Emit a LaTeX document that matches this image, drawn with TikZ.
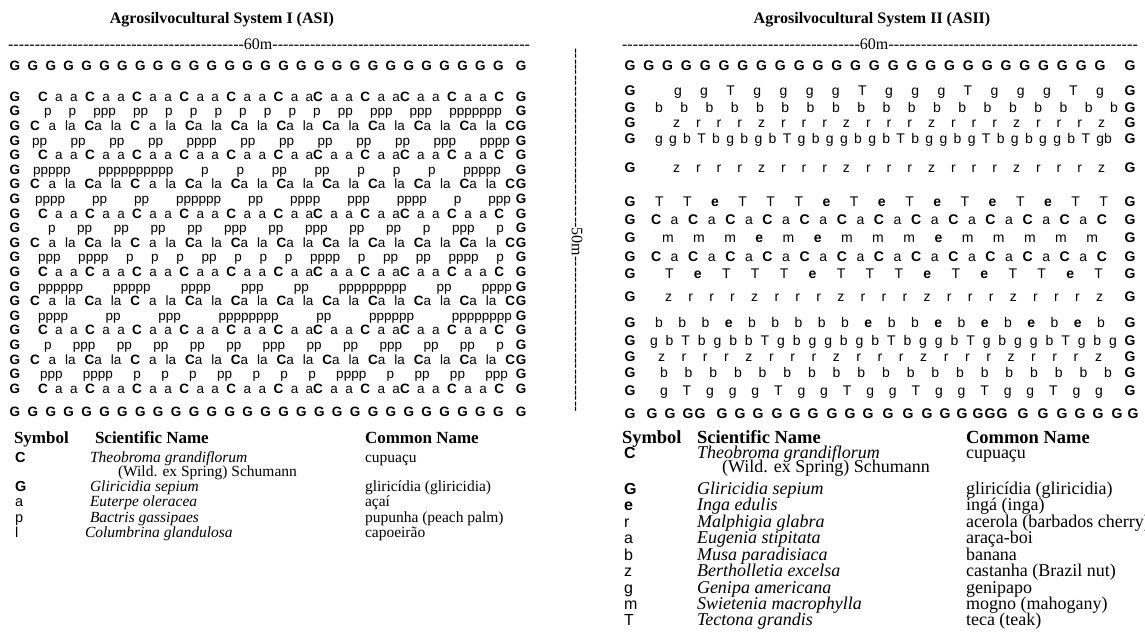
\documentclass[tikz,border=0pt]{standalone}
\usepackage{fontspec}
\setmainfont{Liberation Serif}
\newfontfamily\sansf{Liberation Sans}
\newcommand{\Cb}{\textbf{C}}
\newcommand{\Gb}{\textbf{G}}
\newcommand{\eb}{\textbf{e}}
\newcommand{\dashfill}{\xleaders\hbox{-}\hfill}
\newcommand{\rowCaa}{\Cb{} a a \Cb{} a a \Cb{} a a \Cb{} a a \Cb{} a a \Cb{} a a\Cb{} a a \Cb{} a a\Cb{} a a \Cb{} a a \Cb{}}
\newcommand{\rowCala}{\Cb{} a la \Cb{}a la \Cb{} a la \Cb{}a la \Cb{}a la \Cb{}a la \Cb{}a la \Cb{}a la \Cb{}a la \Cb{}a la \Cb{}}
\newcommand{\rowZ}{z r r r z r r r z r r r z r r r z r r r z}
\newcommand{\rowCaCa}{\Cb{} a \Cb{} a \Cb{} a \Cb{} a \Cb{} a \Cb{} a \Cb{} a \Cb{} a \Cb{} a \Cb{} a \Cb{} a \Cb{} a \Cb{}}
\newcommand{\Grow}[5]{%
  \node[\cellst,anchor=base] (#1l) at (\GL,#2) {\Gb};
  \node[\cellst,anchor=base west] (#1c) at (#3,#2) {\makebox[#4pt][s]{#5}};
  \node[\cellst,anchor=base] (#1r) at (\GR,#2) {\Gb};
}
\begin{document}
\begin{tikzpicture}[x=1pt,y=-1pt,
  every node/.style={inner sep=0pt,outer sep=0pt},
  cellL/.style={font=\sansf\fontsize{13.5}{14}\selectfont},
  cellR/.style={font=\sansf\fontsize{14}{15}\selectfont},
  ttl/.style={font=\bfseries\fontsize{16}{18}\selectfont,anchor=base},
  hdrL/.style={font=\bfseries\fontsize{17}{19}\selectfont,anchor=base west},
  symL/.style={font=\sansf\fontsize{14.5}{16}\selectfont,anchor=base west},
  legL/.style={font=\fontsize{15.5}{17}\selectfont,anchor=base west},
  sciL/.style={font=\itshape\fontsize{15.5}{17}\selectfont,anchor=base west},
  hdrR/.style={font=\bfseries\fontsize{18.5}{20}\selectfont,anchor=base west},
  symR/.style={font=\sansf\fontsize{16}{18}\selectfont,anchor=base west},
  legR/.style={font=\fontsize{18}{20}\selectfont,anchor=base west},
  sciR/.style={font=\itshape\fontsize{18}{20}\selectfont,anchor=base west},
  dim/.style={font=\fontsize{16}{18}\selectfont}]
\useasboundingbox[fill=white] (0,0) rectangle (1145,634);

% titles
\node[ttl] (t1) at (222,24) {Agrosilvocultural System I (ASI)};
\node[ttl] (t2) at (872,24) {Agrosilvocultural System II (ASII)};

% dimension lines
\node[dim,anchor=base west] (d1) at (8,50) {\hbox to 522pt{\hbox to 236pt{\dashfill}60m\dashfill}};
\node[dim,anchor=base west] (d2) at (622,50) {\hbox to 516pt{\hbox to 238pt{\dashfill}60m\dashfill}};
\node[dim,rotate=-90] (d3) at (577,230) {\hbox to 364pt{\hbox to 180pt{\dashfill}50m\dashfill}};

% ---------- left grid ----------
\def\cellst{cellL}
\foreach \k in {0,...,27}{\node[cellL,anchor=base] (LT\k) at ({15+17.9*\k},70.6) {\Gb};}
\node[cellL,anchor=base] (LTe) at (521,70.6) {\Gb};
\def\GL{15}\def\GR{521}
\Grow{L1}{101.3}{38}{466}{\rowCaa}
\Grow{L2}{115.9}{44}{458}{p p ppp pp p p p p p p p pp ppp ppp ppppppp}
\Grow{L3}{130.5}{30}{485}{\rowCala}
\Grow{L4}{145.1}{32}{478}{pp pp pp pp pppp pp pp pp pp pp ppp pppp}
\Grow{L5}{159.7}{38}{466}{\rowCaa}
\Grow{L6}{174.3}{33}{468}{ppppp pppppppppp p p pp pp p p p ppppp}
\Grow{L7}{188.9}{30}{485}{\rowCala}
\Grow{L8}{203.5}{35}{476}{pppp pp pp pppppp pp pppp ppp pppp p ppp}
\Grow{L9}{218.1}{38}{466}{\rowCaa}
\Grow{L10}{232.7}{48}{456}{p pp pp pp pp ppp pp ppp pp pp p ppp p}
\Grow{L11}{247.3}{30}{485}{\rowCala}
\Grow{L12}{261.9}{38}{466}{ppp pppp p p p pp p p p pppp p pp pp pppp p}
\Grow{L13}{276.5}{38}{466}{\rowCaa}
\Grow{L14}{291.1}{38}{474}{pppppp ppppp pppp ppp pp ppppppppp pp pppp}
\Grow{L15}{305.7}{30}{485}{\rowCala}
\Grow{L16}{320.3}{38}{474}{pppp pp ppp pppppppp pp pppppp pppppppp}
\Grow{L17}{334.9}{38}{466}{\rowCaa}
\Grow{L18}{349.5}{44}{460}{p ppp pp pp pp pp ppp pp pp ppp pp pp p}
\Grow{L19}{364.1}{30}{485}{\rowCala}
\Grow{L20}{378.7}{40}{468}{ppp pppp p p p pp p p p pppp p pp pp ppp}
\Grow{L21}{393.3}{38}{466}{\rowCaa}
\foreach \k in {0,...,27}{\node[cellL,anchor=base] (LB\k) at ({15+17.9*\k},416.6) {\Gb};}
\node[cellL,anchor=base] (LBe) at (521,416.6) {\Gb};

% ---------- right grid ----------
\def\cellst{cellR}
\foreach \k in {0,...,25}{\node[cellR,anchor=base] (RT\k) at ({630+18.8*\k},70.6) {\Gb};}
\node[cellR,anchor=base] (RTe) at (1130,70.6) {\Gb};
\def\GL{630}\def\GR{1130}
\Grow{R1}{95.2}{674}{430}{g g T g g g g T g g g T g g g T g}
\Grow{R2}{112.2}{655}{463}{b b b b b b b b b b b b b b b b b b b}
\Grow{R3}{127.8}{673}{432}{\rowZ}
\Grow{R4}{143.5}{655}{457}{g g b T b g b g b T g b g g b g b T b g g b g T b g b g g b T gb}
\Grow{R5}{172.5}{673}{432}{\rowZ}
\Grow{R6}{206}{655}{453}{T T \eb{} T T T \eb{} T \eb{} T \eb{} T \eb{} T \eb{} T T}
\Grow{R7}{224.5}{651}{456}{\rowCaCa}
\Grow{R8}{242.5}{662}{436}{m m m \eb{} m \eb{} m m m \eb{} m m m m m}
\Grow{R9}{261.2}{651}{456}{\rowCaCa}
\Grow{R10}{278.9}{665}{438}{T \eb{} T T T \eb{} T T T \eb{} T \eb{} T T \eb{} T}
\Grow{R11}{301.8}{665}{438}{\rowZ}
\Grow{R12}{327.9}{655}{450}{b b b \eb{} b b b b b \eb{} b b \eb{} b \eb{} b \eb{} b \eb{} b}
\Grow{R13}{345.5}{650}{467}{g b T b g b b T g b g g b g b T b g g b T g b g g b T g b g}
\Grow{R14}{361.2}{658}{444}{\rowZ}
\Grow{R15}{377.9}{660}{452}{b b b b b b b b b b b b b b b b b b b}
\Grow{R16}{395.5}{660}{443}{g T g g g T g g T g g T g g T g g T g g}
\foreach \xx [count=\i] in {630,652,670,688,700,722,740,758,777,795,813,832,850,868,888,908,927,945,962,978,990,1002,1023,1043,1062,1080,1098,1117,1133}
  {\node[cellR,anchor=base] (RB\i) at (\xx,418.6) {\Gb};}

% ---------- left legend ----------
\node[hdrL] (lh1) at (14,443) {Symbol};
\node[hdrL] (lh2) at (95,443) {Scientific Name};
\node[hdrL] (lh3) at (365,443) {Common Name};
\node[symL] (ls1) at (15,462) {\Cb};
\node[sciL] (ln1) at (90,462) {Theobroma grandiflorum};
\node[legL] (lc1) at (365,462) {cupuaçu};
\node[legL] (ln1b) at (118,476) {(Wild. ex Spring) Schumann};
\node[symL] (ls2) at (15,491) {\Gb};
\node[sciL] (ln2) at (90,491) {Gliricidia sepium};
\node[legL] (lc2) at (365,491) {gliricídia (gliricidia)};
\node[symL] (ls3) at (15,506) {a};
\node[sciL] (ln3) at (90,506) {Euterpe oleracea};
\node[legL] (lc3) at (365,506) {açaí};
\node[symL] (ls4) at (15,522) {p};
\node[sciL] (ln4) at (90,522) {Bactris gassipaes};
\node[legL] (lc4) at (365,522) {pupunha (peach palm)};
\node[symL] (ls5) at (15,537) {l};
\node[sciL] (ln5) at (85,537) {Columbrina glandulosa};
\node[legL] (lc5) at (365,537) {capoeirão};

% ---------- right legend ----------
\node[hdrR] (rh1) at (622,443) {Symbol};
\node[hdrR] (rh2) at (697,443) {Scientific Name};
\node[hdrR] (rh3) at (966,443) {Common Name};
\node[symR] (rs1) at (624,458) {\Cb};
\node[sciR] (rn1) at (697,458) {Theobroma grandiflorum};
\node[legR] (rc1) at (966,458) {cupuaçu};
\node[legR] (rn1b) at (722,472) {(Wild. ex Spring) Schumann};
\node[symR] (rs2) at (624,494) {\Gb};
\node[sciR] (rn2) at (697,494) {Gliricidia sepium};
\node[legR] (rc2) at (966,494) {gliricídia (gliricidia)};
\node[symR] (rs3) at (624,510) {\eb};
\node[sciR] (rn3) at (697,510) {Inga edulis};
\node[legR] (rc3) at (966,510) {ingá (inga)};
\node[symR] (rs4) at (624,527) {r};
\node[sciR] (rn4) at (697,527) {Malphigia glabra};
\node[legR] (rc4) at (966,527) {acerola (barbados cherry)};
\node[symR] (rs5) at (624,543) {a};
\node[sciR] (rn5) at (697,543) {Eugenia stipitata};
\node[legR] (rc5) at (966,543) {araça-boi};
\node[symR] (rs6) at (624,560) {b};
\node[sciR] (rn6) at (697,560) {Musa paradisiaca};
\node[legR] (rc6) at (966,560) {banana};
\node[symR] (rs7) at (624,576) {z};
\node[sciR] (rn7) at (697,576) {Bertholletia excelsa};
\node[legR] (rc7) at (966,576) {castanha (Brazil nut)};
\node[symR] (rs8) at (624,593) {g};
\node[sciR] (rn8) at (697,593) {Genipa americana};
\node[legR] (rc8) at (966,593) {genipapo};
\node[symR] (rs9) at (624,609) {m};
\node[sciR] (rn9) at (697,609) {Swietenia macrophylla};
\node[legR] (rc9) at (966,609) {mogno (mahogany)};
\node[symR] (rs10) at (624,625) {T};
\node[sciR] (rn10) at (697,625) {Tectona grandis};
\node[legR] (rc10) at (966,625) {teca (teak)};
\end{tikzpicture}
\end{document}
